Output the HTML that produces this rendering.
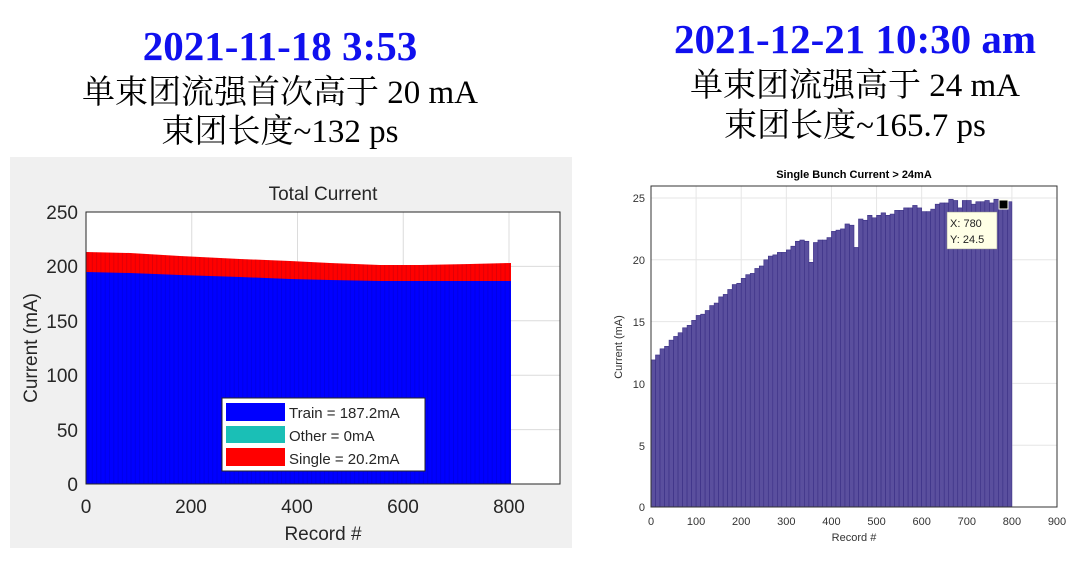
<!DOCTYPE html>
<html><head><meta charset="utf-8"><style>
html,body{margin:0;padding:0;background:#fff;width:1079px;height:561px;overflow:hidden}
svg{display:block}
.t{font-family:"Liberation Serif","Noto Serif CJK SC",serif}
.s{font-family:"Liberation Sans","DejaVu Sans",sans-serif}
</style></head><body>
<svg id="g" width="1079" height="561" xmlns="http://www.w3.org/2000/svg">
<defs><clipPath id="bc"><polygon points="86,484 86,252 130,253 180,256 240,259 290,261 330,263 380,265 420,265 470,264 511,263 511,484"/></clipPath></defs>
<text class="t" x="280" y="60" text-anchor="middle" font-size="41" font-weight="bold" fill="#1010ee">2021-11-18 3:53</text>
<text class="t" x="280" y="103" text-anchor="middle" font-size="33" fill="#000">单束团流强首次高于 20 mA</text>
<text class="t" x="280" y="142" text-anchor="middle" font-size="33" fill="#000">束团长度~132 ps</text>
<text class="t" x="855" y="53" text-anchor="middle" font-size="41" font-weight="bold" fill="#1010ee">2021-12-21 10:30 am</text>
<text class="t" x="855" y="96" text-anchor="middle" font-size="33" fill="#000">单束团流强高于 24 mA</text>
<text class="t" x="855" y="136" text-anchor="middle" font-size="33" fill="#000">束团长度~165.7 ps</text>

<!-- left chart -->
<rect x="10" y="157" width="562" height="391" fill="#f0f0f0"/>
<rect x="86" y="212" width="474" height="272" fill="#fff"/>
<g stroke="#dcdcdc" stroke-width="1">
<line x1="86" y1="266.4" x2="560" y2="266.4"/><line x1="86" y1="320.8" x2="560" y2="320.8"/><line x1="86" y1="375.2" x2="560" y2="375.2"/><line x1="86" y1="429.6" x2="560" y2="429.6"/>
<line x1="191.75" y1="212" x2="191.75" y2="484"/><line x1="297.5" y1="212" x2="297.5" y2="484"/><line x1="403.25" y1="212" x2="403.25" y2="484"/><line x1="509" y1="212" x2="509" y2="484"/>
</g>
<polygon points="86,484 86,252 130,253 180,256 240,259 290,261 330,263 380,265 420,265 470,264 511,263 511,484" fill="#ff0000"/>
<polygon points="86,484 86,272 130,273 180,275 240,277 290,279 330,280 380,281 420,281 470,281 511,281 511,484" fill="#0000ff"/>
<g id="tex" clip-path="url(#bc)"></g>
<rect x="86" y="212" width="474" height="272" fill="none" stroke="#262626" stroke-width="1"/>
<g class="s" font-size="19" fill="#262626" text-anchor="end">
<text x="78" y="219">250</text><text x="78" y="273">200</text><text x="78" y="328">150</text><text x="78" y="382">100</text><text x="78" y="437">50</text><text x="78" y="491">0</text>
</g>
<g class="s" font-size="19" fill="#262626" text-anchor="middle">
<text x="86" y="513">0</text><text x="191" y="513">200</text><text x="297" y="513">400</text><text x="403" y="513">600</text><text x="509" y="513">800</text>
<text x="323" y="540">Record #</text>
<text x="323" y="200">Total Current</text>
<text transform="translate(37,348) rotate(-90)">Current (mA)</text>
</g>
<rect x="222" y="398" width="203" height="73" fill="#fff" stroke="#262626" stroke-width="1"/>
<rect x="226" y="403" width="59" height="18" fill="#0000ff"/>
<rect x="226" y="426" width="59" height="17" fill="#1abfb6"/>
<rect x="226" y="448" width="59" height="18" fill="#ff0000"/>
<g class="s" font-size="15" fill="#262626">
<text x="289" y="418">Train = 187.2mA</text><text x="289" y="441">Other = 0mA</text><text x="289" y="464">Single = 20.2mA</text>
</g>

<!-- right chart -->
<rect x="651" y="186" width="406" height="321" fill="#fff"/>
<g stroke="#e6e6e6" stroke-width="1" id="rgrid"></g>
<g id="rbars"></g>
<rect x="651" y="186" width="406" height="321" fill="none" stroke="#333" stroke-width="1"/>
<g class="s" font-size="11" fill="#333" text-anchor="end">
<text x="645" y="202">25</text><text x="645" y="264">20</text><text x="645" y="326">15</text><text x="645" y="388">10</text><text x="645" y="450">5</text><text x="645" y="511">0</text>
</g>
<g class="s" font-size="11" fill="#333" text-anchor="middle" id="rxl"></g>
<text class="s" x="854" y="541" font-size="11" fill="#333" text-anchor="middle">Record #</text>
<text class="s" x="854" y="178" font-size="11" font-weight="bold" fill="#000" text-anchor="middle">Single Bunch Current &gt; 24mA</text>
<text class="s" transform="translate(622,347) rotate(-90)" font-size="11" fill="#333" text-anchor="middle">Current (mA)</text>
<rect x="947" y="212" width="50" height="37" fill="#ffffe6" stroke="#888" stroke-width="0.5"/>
<text class="s" x="950" y="227" font-size="11" fill="#222">X: 780</text>
<text class="s" x="950" y="243" font-size="11" fill="#222">Y: 24.5</text>
<rect x="999" y="200" width="9" height="9" fill="#000" stroke="#ffe" stroke-width="1"/>
</svg>
<script>
var NS="http://www.w3.org/2000/svg";
function el(p,t,a){var e=document.createElementNS(NS,t);for(var k in a)e.setAttribute(k,a[k]);p.appendChild(e);return e;}
var tex=document.getElementById("tex");
for(var x=88;x<511;x+=4.3){el(tex,"line",{x1:x,y1:250,x2:x,y2:484,stroke:"rgba(0,0,60,0.12)","stroke-width":1});}
var v=[11.9,12.3,12.8,13.0,13.5,13.8,14.1,14.5,14.7,15.1,15.5,15.6,15.9,16.3,16.5,17.0,17.2,17.6,18.0,18.1,18.5,18.8,18.9,19.3,19.5,20.0,20.3,20.4,20.6,20.6,20.8,21.1,21.5,21.6,21.5,19.8,21.4,21.6,21.6,21.8,22.3,22.4,22.5,22.9,22.8,21.0,23.3,23.2,23.6,23.4,23.6,23.8,23.6,23.7,24.0,24.0,24.2,24.2,24.4,24.2,23.9,23.9,24.1,24.5,24.6,24.6,24.9,24.8,24.2,24.8,24.8,24.5,24.7,24.7,24.8,24.6,24.9,24.5,24.5,24.7];
var g=document.getElementById("rgrid");
var sx=406/900, sy=12.36;
for(var i=1;i<=9;i++){var xx=651+i*100*sx;el(g,"line",{x1:xx,y1:186,x2:xx,y2:507});}
for(var j=1;j<=5;j++){var yy=507-j*5*sy;el(g,"line",{x1:651,y1:yy,x2:1057,y2:yy});}
var b=document.getElementById("rbars");
for(var i=0;i<v.length;i++){var x0=651+i*10*sx,h=v[i]*sy;el(b,"rect",{x:x0,y:507-h,width:10*sx,height:h,fill:"#5a4f9e",stroke:"#3a2f85","stroke-width":0.6});}
var xl=document.getElementById("rxl");
for(var i=0;i<=9;i++){var t=el(xl,"text",{x:651+i*100*sx,y:525});t.textContent=String(i*100);}
</script>
</body></html>
